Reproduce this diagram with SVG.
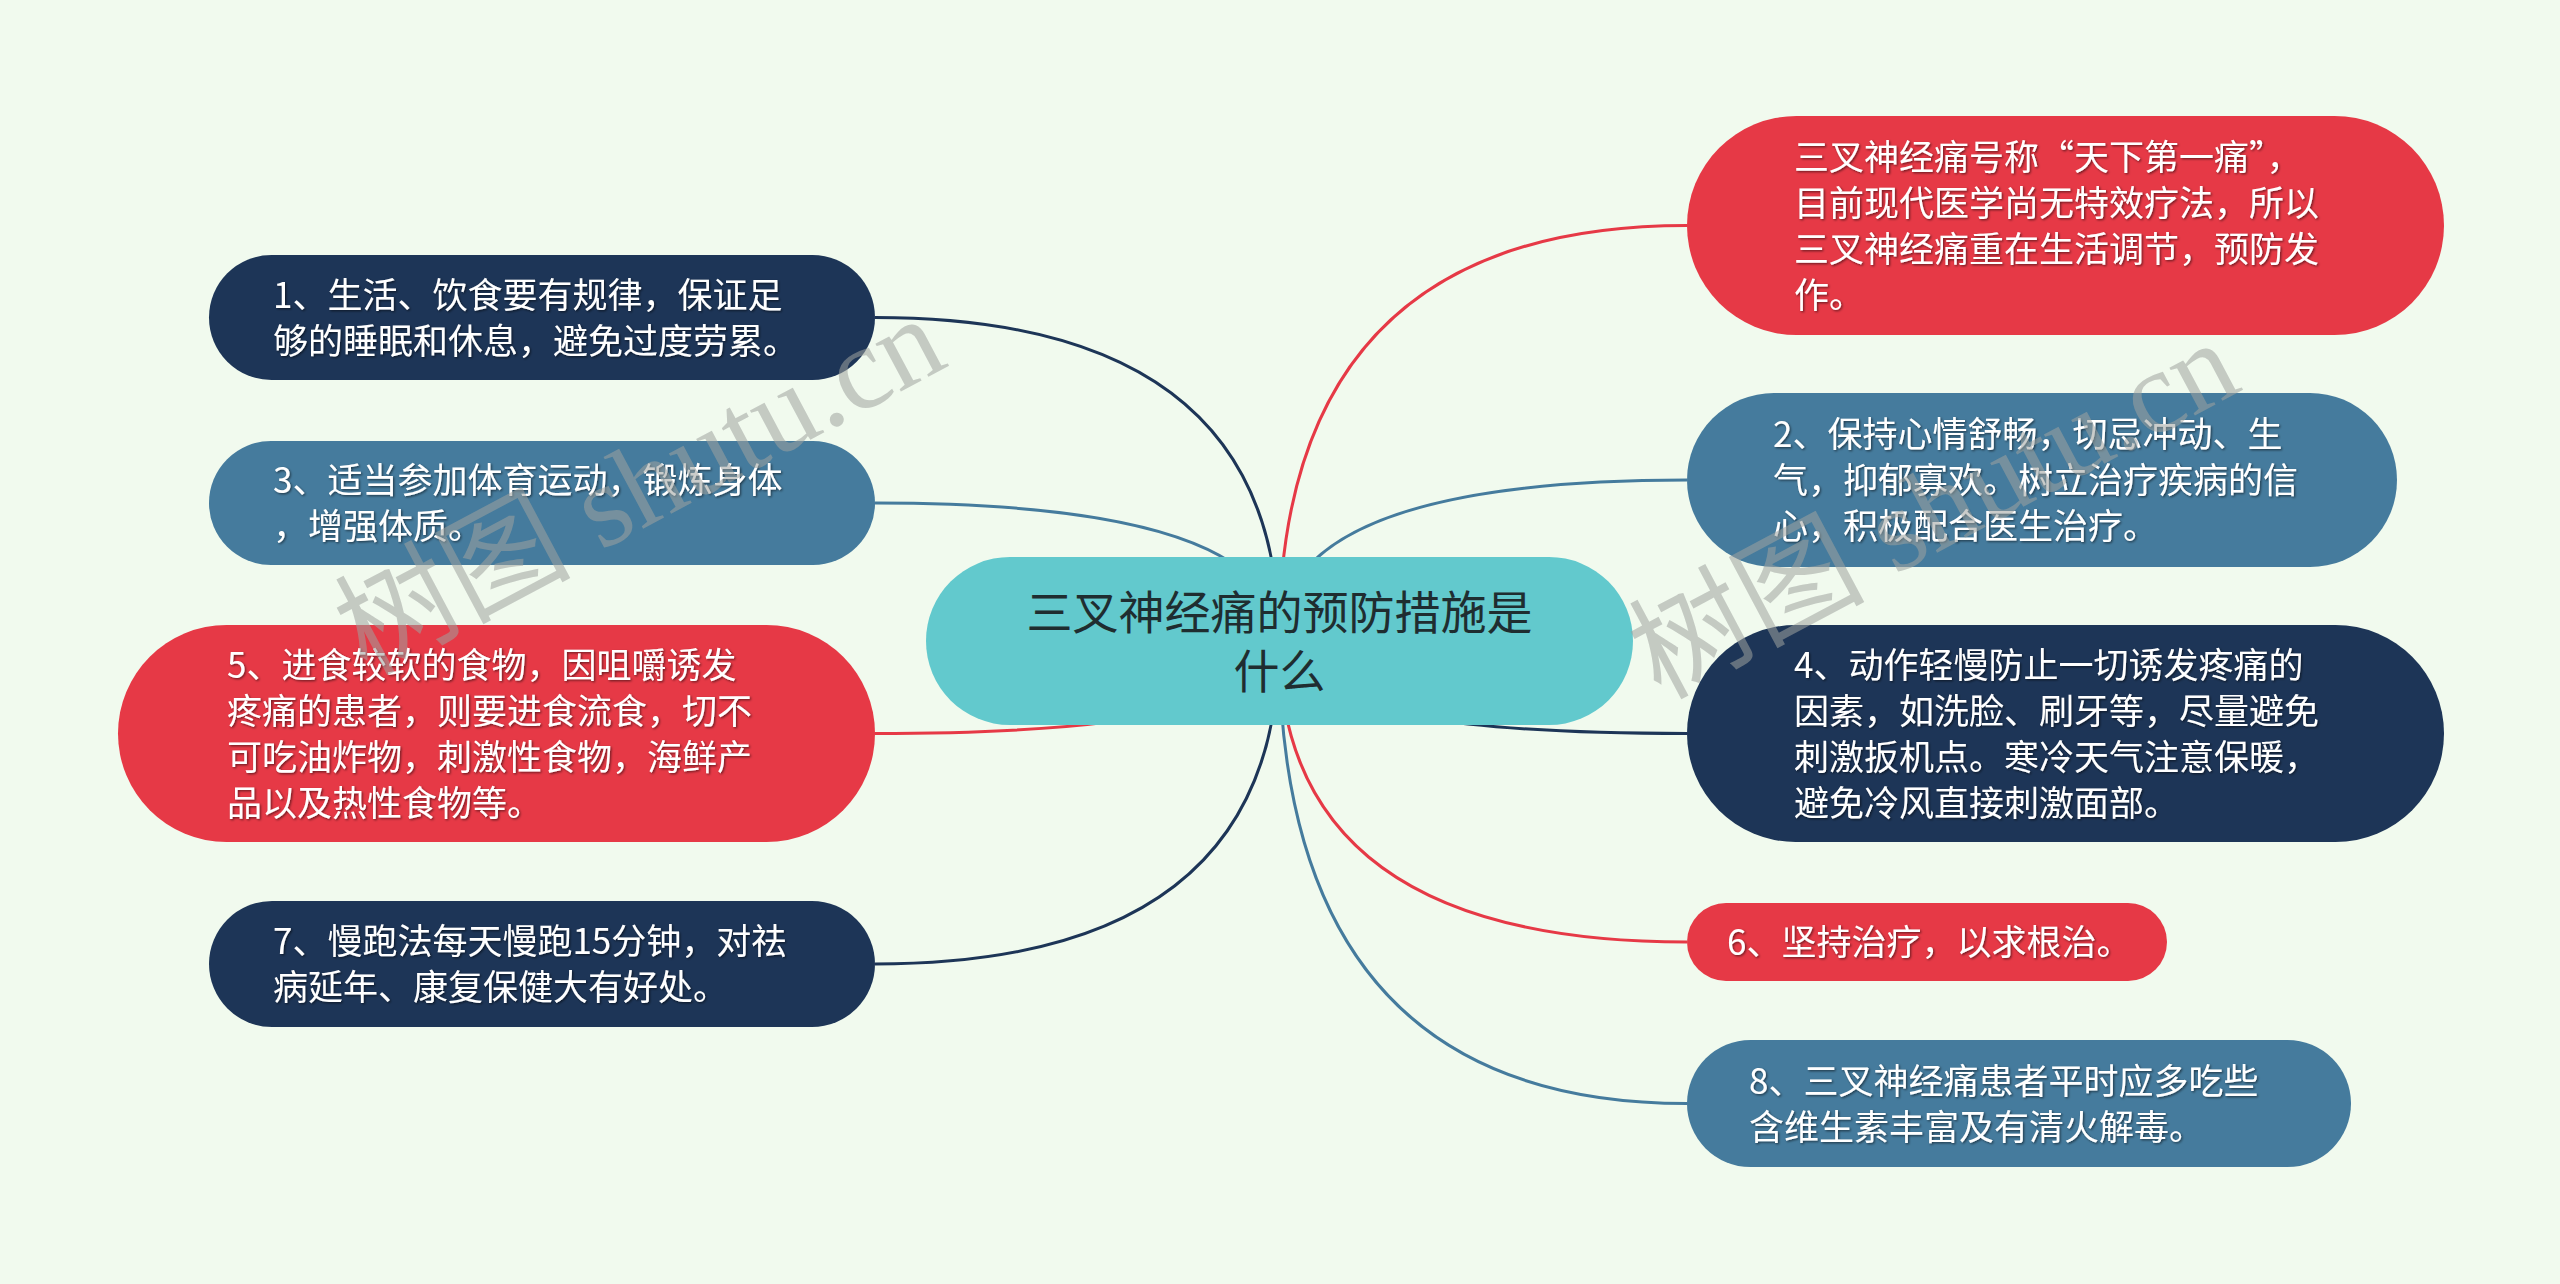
<svg xmlns="http://www.w3.org/2000/svg" width="2560" height="1284" viewBox="0 0 2560 1284">
<defs>
<style>
.bg{fill:#f1faee}
.navy{fill:#1d3557}
.steel{fill:#457b9d}
.red{fill:#e63946}
.center{fill:#62c9cd}
.t{font-family:"Noto Sans CJK SC","Microsoft YaHei",sans-serif;font-size:35px;fill:#ffffff;filter:url(#sh)}
.ct{font-family:"Noto Sans CJK SC","Microsoft YaHei",sans-serif;font-size:46px;fill:#1f2d30;text-anchor:middle}
.c{fill:none;stroke-width:3}
.cn{stroke:#1d3557}
.cs{stroke:#457b9d}
.cr{stroke:#e63946}
.wm{font-family:"Liberation Serif","Noto Sans CJK SC",serif;font-size:118px;fill:#9ea39e;fill-opacity:0.55}
</style>
<filter id="sh" x="-5%" y="-20%" width="110%" height="140%">
<feDropShadow dx="1.2" dy="1.2" stdDeviation="0.8" flood-color="#000000" flood-opacity="0.55"/>
</filter>
</defs>
<rect class="bg" x="0" y="0" width="2560" height="1284"/>
<g id="connectors">
<path class="c cn" d="M1279 641 Q1279 317.5 875 317.5"/>
<path class="c cs" d="M1279 641 Q1279 503 875 503"/>
<path class="c cr" d="M1279 641 Q1279 733.5 875 733.5"/>
<path class="c cn" d="M1279 641 Q1279 964 875 964"/>
<path class="c cr" d="M1279 641 Q1279 225.5 1687 225.5"/>
<path class="c cs" d="M1279 641 Q1279 480 1687 480"/>
<path class="c cn" d="M1279 641 Q1279 733.5 1687 733.5"/>
<path class="c cr" d="M1279 641 Q1279 942 1687 942"/>
<path class="c cs" d="M1279 641 Q1279 1103.5 1687 1103.5"/>
</g>
<g id="root">
<rect class="center" x="926" y="557" width="707" height="168" rx="84"/>
<text class="ct" x="1279.5" y="629">三叉神经痛的预防措施是</text>
<text class="ct" x="1279.5" y="688">什么</text>
</g>
<g id="n1">
<rect class="navy" x="209" y="255" width="666" height="125" rx="62.5"/>
<text class="t" x="273" y="307.5">1、生活、饮食要有规律，保证足</text>
<text class="t" x="273" y="353.5">够的睡眠和休息，避免过度劳累。</text>
</g>
<g id="n3">
<rect class="steel" x="209" y="441" width="666" height="124" rx="62"/>
<text class="t" x="273" y="493">3、适当参加体育运动，锻炼身体</text>
<text class="t" x="273" y="539">，增强体质。</text>
</g>
<g id="n5">
<rect class="red" x="118" y="625" width="757" height="217" rx="108.5"/>
<text class="t" x="227" y="677.5">5、进食较软的食物，因咀嚼诱发</text>
<text class="t" x="227" y="723.5">疼痛的患者，则要进食流食，切不</text>
<text class="t" x="227" y="769.5">可吃油炸物，刺激性食物，海鲜产</text>
<text class="t" x="227" y="815.5">品以及热性食物等。</text>
</g>
<g id="n7">
<rect class="navy" x="209" y="901" width="666" height="126" rx="63"/>
<text class="t" x="273" y="954">7、慢跑法每天慢跑15分钟，对祛</text>
<text class="t" x="273" y="1000">病延年、康复保健大有好处。</text>
</g>
<g id="n0">
<rect class="red" x="1687" y="116" width="757" height="219" rx="109.5"/>
<text class="t" x="1794" y="169.5">三叉神经痛号称“天下第一痛”，</text>
<text class="t" x="1794" y="215.5">目前现代医学尚无特效疗法，所以</text>
<text class="t" x="1794" y="261.5">三叉神经痛重在生活调节，预防发</text>
<text class="t" x="1794" y="307.5">作。</text>
</g>
<g id="n2">
<rect class="steel" x="1687" y="393" width="710" height="174" rx="87"/>
<text class="t" x="1773" y="447">2、保持心情舒畅，切忌冲动、生</text>
<text class="t" x="1773" y="493">气，抑郁寡欢。树立治疗疾病的信</text>
<text class="t" x="1773" y="539">心，积极配合医生治疗。</text>
</g>
<g id="n4">
<rect class="navy" x="1687" y="625" width="757" height="217" rx="108.5"/>
<text class="t" x="1794" y="677.5">4、动作轻慢防止一切诱发疼痛的</text>
<text class="t" x="1794" y="723.5">因素，如洗脸、刷牙等，尽量避免</text>
<text class="t" x="1794" y="769.5">刺激扳机点。寒冷天气注意保暖，</text>
<text class="t" x="1794" y="815.5">避免冷风直接刺激面部。</text>
</g>
<g id="n6">
<rect class="red" x="1687" y="903" width="480" height="78" rx="39"/>
<text class="t" x="1727" y="955">6、坚持治疗，以求根治。</text>
</g>
<g id="n8">
<rect class="steel" x="1687" y="1040" width="664" height="127" rx="63.5"/>
<text class="t" x="1749" y="1093.5">8、三叉神经痛患者平时应多吃些</text>
<text class="t" x="1749" y="1139.5">含维生素丰富及有清火解毒。</text>
</g>
<g id="watermark">
<text class="wm" transform="translate(366 676) rotate(-28)">树图 shutu.cn</text>
<text class="wm" transform="translate(1660 700) rotate(-28)">树图 shutu.cn</text>
</g>
</svg>
